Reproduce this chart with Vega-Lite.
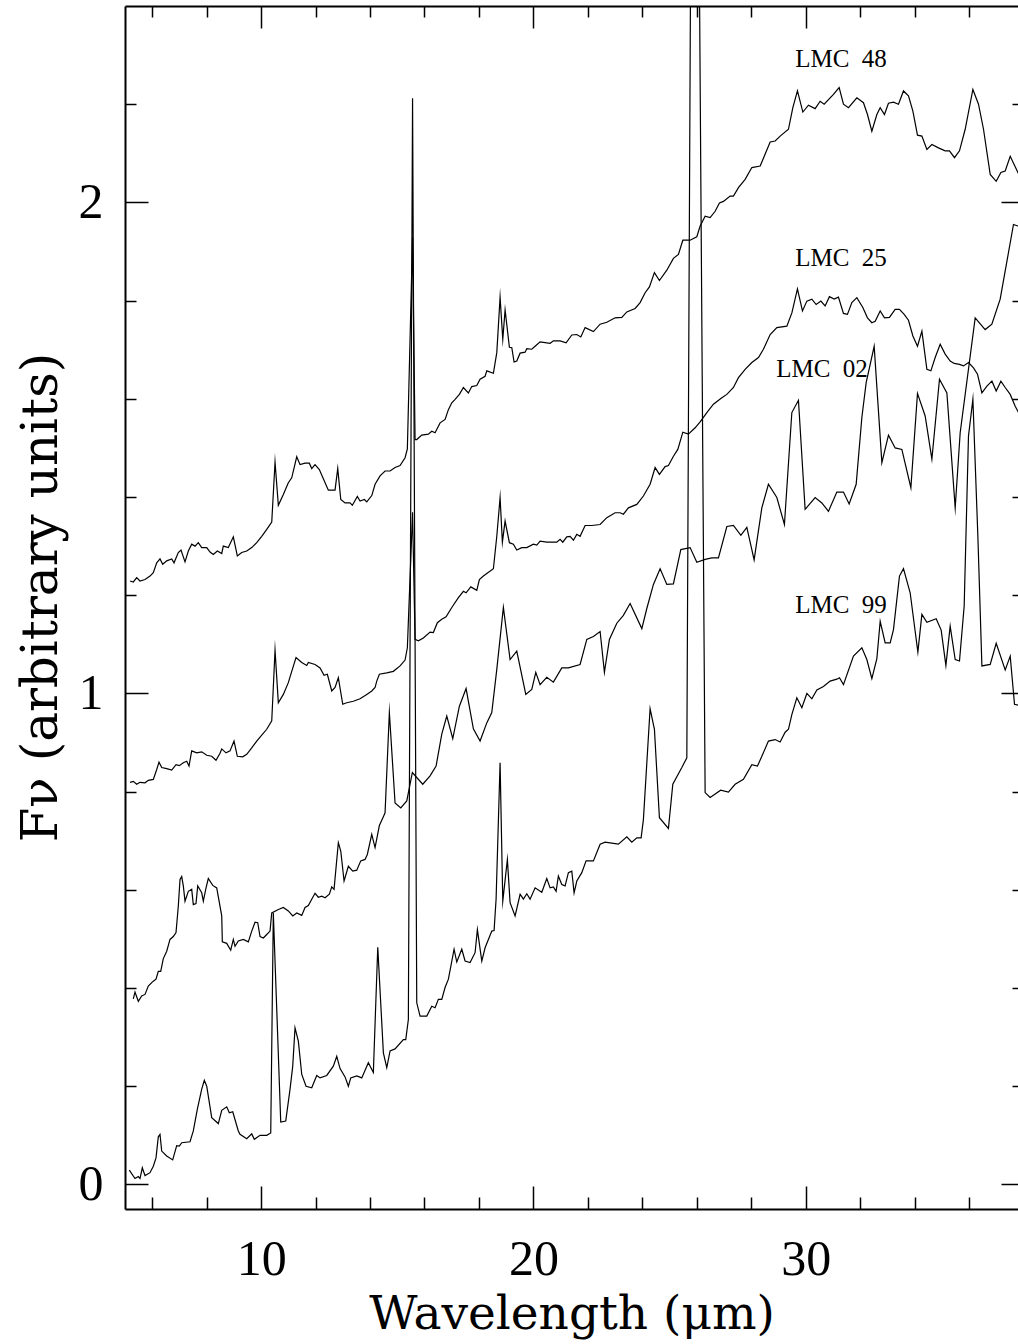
{
"$schema":"https://vega.github.io/schema/vega-lite/v6.json",
"width":893,"height":1203,
"autosize":{"type":"none"},
"padding":{"left":125,"top":6,"right":0,"bottom":135},
"background":"white",
"config":{"view":{"stroke":null},"axis":{"grid":false,"domainColor":"black","tickColor":"black","labelColor":"black","titleColor":"black"}},
"datasets":{
"labels":[
{"label":"LMC\u00a0\u00a048","wl":29.614,"flux":2.275},
{"label":"LMC\u00a0\u00a025","wl":29.614,"flux":1.870},
{"label":"LMC\u00a0\u00a002","wl":28.916,"flux":1.644},
{"label":"LMC\u00a0\u00a099","wl":29.614,"flux":1.163}],
"spectra":[
{"obj":"LMC 48","wl":5.184,"flux":1.229},{"obj":"LMC 48","wl":5.305,"flux":1.227},{"obj":"LMC 48","wl":5.430,"flux":1.236},{"obj":"LMC 48","wl":5.551,"flux":1.229},{"obj":"LMC 48","wl":5.735,"flux":1.232},{"obj":"LMC 48","wl":5.918,"flux":1.239},{"obj":"LMC 48","wl":6.040,"flux":1.246},{"obj":"LMC 48","wl":6.165,"flux":1.266},{"obj":"LMC 48","wl":6.286,"flux":1.274},{"obj":"LMC 48","wl":6.385,"flux":1.263},{"obj":"LMC 48","wl":6.532,"flux":1.270},{"obj":"LMC 48","wl":6.716,"flux":1.274},{"obj":"LMC 48","wl":6.800,"flux":1.266},{"obj":"LMC 48","wl":6.958,"flux":1.287},{"obj":"LMC 48","wl":7.057,"flux":1.292},{"obj":"LMC 48","wl":7.204,"flux":1.268},{"obj":"LMC 48","wl":7.326,"flux":1.290},{"obj":"LMC 48","wl":7.450,"flux":1.304},{"obj":"LMC 48","wl":7.572,"flux":1.300},{"obj":"LMC 48","wl":7.693,"flux":1.307},{"obj":"LMC 48","wl":7.818,"flux":1.297},{"obj":"LMC 48","wl":8.002,"flux":1.297},{"obj":"LMC 48","wl":8.123,"flux":1.288},{"obj":"LMC 48","wl":8.244,"flux":1.283},{"obj":"LMC 48","wl":8.391,"flux":1.290},{"obj":"LMC 48","wl":8.553,"flux":1.285},{"obj":"LMC 48","wl":8.611,"flux":1.300},{"obj":"LMC 48","wl":8.795,"flux":1.297},{"obj":"LMC 48","wl":8.979,"flux":1.319},{"obj":"LMC 48","wl":9.126,"flux":1.280},{"obj":"LMC 48","wl":9.287,"flux":1.287},{"obj":"LMC 48","wl":9.471,"flux":1.290},{"obj":"LMC 48","wl":9.655,"flux":1.297},{"obj":"LMC 48","wl":9.838,"flux":1.307},{"obj":"LMC 48","wl":10.022,"flux":1.320},{"obj":"LMC 48","wl":10.206,"flux":1.334},{"obj":"LMC 48","wl":10.390,"flux":1.349},{"obj":"LMC 48","wl":10.511,"flux":1.471},{"obj":"LMC 48","wl":10.632,"flux":1.383},{"obj":"LMC 48","wl":10.816,"flux":1.405},{"obj":"LMC 48","wl":10.999,"flux":1.429},{"obj":"LMC 48","wl":11.124,"flux":1.439},{"obj":"LMC 48","wl":11.308,"flux":1.482},{"obj":"LMC 48","wl":11.429,"flux":1.466},{"obj":"LMC 48","wl":11.613,"flux":1.469},{"obj":"LMC 48","wl":11.771,"flux":1.469},{"obj":"LMC 48","wl":11.859,"flux":1.458},{"obj":"LMC 48","wl":11.980,"flux":1.466},{"obj":"LMC 48","wl":12.138,"flux":1.456},{"obj":"LMC 48","wl":12.285,"flux":1.437},{"obj":"LMC 48","wl":12.469,"flux":1.414},{"obj":"LMC 48","wl":12.715,"flux":1.414},{"obj":"LMC 48","wl":12.814,"flux":1.458},{"obj":"LMC 48","wl":12.925,"flux":1.395},{"obj":"LMC 48","wl":13.083,"flux":1.388},{"obj":"LMC 48","wl":13.266,"flux":1.388},{"obj":"LMC 48","wl":13.351,"flux":1.383},{"obj":"LMC 48","wl":13.534,"flux":1.401},{"obj":"LMC 48","wl":13.633,"flux":1.392},{"obj":"LMC 48","wl":13.792,"flux":1.395},{"obj":"LMC 48","wl":13.880,"flux":1.390},{"obj":"LMC 48","wl":14.064,"flux":1.403},{"obj":"LMC 48","wl":14.185,"flux":1.426},{"obj":"LMC 48","wl":14.368,"flux":1.443},{"obj":"LMC 48","wl":14.552,"flux":1.453},{"obj":"LMC 48","wl":14.736,"flux":1.453},{"obj":"LMC 48","wl":14.919,"flux":1.460},{"obj":"LMC 48","wl":15.103,"flux":1.464},{"obj":"LMC 48","wl":15.287,"flux":1.480},{"obj":"LMC 48","wl":15.371,"flux":1.498},{"obj":"LMC 48","wl":15.562,"flux":1.929},{"obj":"LMC 48","wl":15.654,"flux":1.517},{"obj":"LMC 48","wl":15.716,"flux":1.517},{"obj":"LMC 48","wl":15.900,"flux":1.526},{"obj":"LMC 48","wl":16.143,"flux":1.528},{"obj":"LMC 48","wl":16.268,"flux":1.534},{"obj":"LMC 48","wl":16.389,"flux":1.531},{"obj":"LMC 48","wl":16.573,"flux":1.551},{"obj":"LMC 48","wl":16.757,"flux":1.558},{"obj":"LMC 48","wl":16.878,"flux":1.578},{"obj":"LMC 48","wl":17.003,"flux":1.592},{"obj":"LMC 48","wl":17.124,"flux":1.599},{"obj":"LMC 48","wl":17.282,"flux":1.609},{"obj":"LMC 48","wl":17.429,"flux":1.623},{"obj":"LMC 48","wl":17.612,"flux":1.612},{"obj":"LMC 48","wl":17.737,"flux":1.625},{"obj":"LMC 48","wl":17.921,"flux":1.627},{"obj":"LMC 48","wl":18.042,"flux":1.640},{"obj":"LMC 48","wl":18.226,"flux":1.646},{"obj":"LMC 48","wl":18.288,"flux":1.657},{"obj":"LMC 48","wl":18.531,"flux":1.652},{"obj":"LMC 48","wl":18.656,"flux":1.694},{"obj":"LMC 48","wl":18.777,"flux":1.807},{"obj":"LMC 48","wl":18.876,"flux":1.721},{"obj":"LMC 48","wl":18.961,"flux":1.781},{"obj":"LMC 48","wl":19.119,"flux":1.705},{"obj":"LMC 48","wl":19.207,"flux":1.704},{"obj":"LMC 48","wl":19.291,"flux":1.675},{"obj":"LMC 48","wl":19.390,"flux":1.677},{"obj":"LMC 48","wl":19.512,"flux":1.693},{"obj":"LMC 48","wl":19.695,"flux":1.695},{"obj":"LMC 48","wl":19.758,"flux":1.702},{"obj":"LMC 48","wl":19.941,"flux":1.701},{"obj":"LMC 48","wl":20.063,"flux":1.707},{"obj":"LMC 48","wl":20.246,"flux":1.716},{"obj":"LMC 48","wl":20.614,"flux":1.713},{"obj":"LMC 48","wl":20.735,"flux":1.718},{"obj":"LMC 48","wl":20.981,"flux":1.718},{"obj":"LMC 48","wl":21.202,"flux":1.714},{"obj":"LMC 48","wl":21.411,"flux":1.730},{"obj":"LMC 48","wl":21.595,"flux":1.731},{"obj":"LMC 48","wl":21.742,"flux":1.726},{"obj":"LMC 48","wl":21.900,"flux":1.745},{"obj":"LMC 48","wl":22.205,"flux":1.737},{"obj":"LMC 48","wl":22.451,"flux":1.752},{"obj":"LMC 48","wl":22.697,"flux":1.756},{"obj":"LMC 48","wl":23.002,"flux":1.765},{"obj":"LMC 48","wl":23.248,"flux":1.766},{"obj":"LMC 48","wl":23.432,"flux":1.777},{"obj":"LMC 48","wl":23.737,"flux":1.784},{"obj":"LMC 48","wl":23.920,"flux":1.796},{"obj":"LMC 48","wl":24.104,"flux":1.816},{"obj":"LMC 48","wl":24.262,"flux":1.828},{"obj":"LMC 48","wl":24.446,"flux":1.857},{"obj":"LMC 48","wl":24.629,"flux":1.841},{"obj":"LMC 48","wl":24.901,"flux":1.862},{"obj":"LMC 48","wl":25.143,"flux":1.886},{"obj":"LMC 48","wl":25.327,"flux":1.894},{"obj":"LMC 48","wl":25.489,"flux":1.923},{"obj":"LMC 48","wl":25.757,"flux":1.923},{"obj":"LMC 48","wl":26.003,"flux":1.930},{"obj":"LMC 48","wl":26.125,"flux":1.952},{"obj":"LMC 48","wl":26.308,"flux":1.972},{"obj":"LMC 48","wl":26.492,"flux":1.969},{"obj":"LMC 48","wl":26.676,"flux":1.982},{"obj":"LMC 48","wl":26.834,"flux":1.999},{"obj":"LMC 48","wl":26.981,"flux":2.002},{"obj":"LMC 48","wl":27.227,"flux":2.013},{"obj":"LMC 48","wl":27.348,"flux":2.013},{"obj":"LMC 48","wl":27.532,"flux":2.030},{"obj":"LMC 48","wl":27.778,"flux":2.047},{"obj":"LMC 48","wl":28.024,"flux":2.071},{"obj":"LMC 48","wl":28.330,"flux":2.074},{"obj":"LMC 48","wl":28.697,"flux":2.123},{"obj":"LMC 48","wl":28.880,"flux":2.125},{"obj":"LMC 48","wl":29.064,"flux":2.135},{"obj":"LMC 48","wl":29.369,"flux":2.149},{"obj":"LMC 48","wl":29.530,"flux":2.193},{"obj":"LMC 48","wl":29.699,"flux":2.227},{"obj":"LMC 48","wl":29.898,"flux":2.184},{"obj":"LMC 48","wl":30.103,"flux":2.198},{"obj":"LMC 48","wl":30.349,"flux":2.191},{"obj":"LMC 48","wl":30.533,"flux":2.206},{"obj":"LMC 48","wl":30.680,"flux":2.200},{"obj":"LMC 48","wl":31.022,"flux":2.220},{"obj":"LMC 48","wl":31.231,"flux":2.234},{"obj":"LMC 48","wl":31.389,"flux":2.200},{"obj":"LMC 48","wl":31.573,"flux":2.193},{"obj":"LMC 48","wl":31.881,"flux":2.213},{"obj":"LMC 48","wl":32.124,"flux":2.203},{"obj":"LMC 48","wl":32.271,"flux":2.179},{"obj":"LMC 48","wl":32.432,"flux":2.145},{"obj":"LMC 48","wl":32.616,"flux":2.179},{"obj":"LMC 48","wl":32.738,"flux":2.193},{"obj":"LMC 48","wl":32.895,"flux":2.179},{"obj":"LMC 48","wl":33.042,"flux":2.202},{"obj":"LMC 48","wl":33.226,"flux":2.204},{"obj":"LMC 48","wl":33.410,"flux":2.200},{"obj":"LMC 48","wl":33.593,"flux":2.227},{"obj":"LMC 48","wl":33.777,"flux":2.217},{"obj":"LMC 48","wl":33.939,"flux":2.186},{"obj":"LMC 48","wl":34.108,"flux":2.137},{"obj":"LMC 48","wl":34.270,"flux":2.135},{"obj":"LMC 48","wl":34.453,"flux":2.108},{"obj":"LMC 48","wl":34.637,"flux":2.118},{"obj":"LMC 48","wl":34.880,"flux":2.111},{"obj":"LMC 48","wl":35.125,"flux":2.105},{"obj":"LMC 48","wl":35.283,"flux":2.105},{"obj":"LMC 48","wl":35.467,"flux":2.091},{"obj":"LMC 48","wl":35.651,"flux":2.105},{"obj":"LMC 48","wl":35.860,"flux":2.149},{"obj":"LMC 48","wl":36.143,"flux":2.230},{"obj":"LMC 48","wl":36.349,"flux":2.200},{"obj":"LMC 48","wl":36.533,"flux":2.149},{"obj":"LMC 48","wl":36.779,"flux":2.057},{"obj":"LMC 48","wl":36.999,"flux":2.043},{"obj":"LMC 48","wl":37.172,"flux":2.061},{"obj":"LMC 48","wl":37.330,"flux":2.064},{"obj":"LMC 48","wl":37.514,"flux":2.094},{"obj":"LMC 48","wl":37.797,"flux":2.061},{"obj":"LMC 48","wl":37.990,"flux":2.037},
{"obj":"LMC 25","wl":5.184,"flux":0.819},{"obj":"LMC 25","wl":5.305,"flux":0.821},{"obj":"LMC 25","wl":5.430,"flux":0.815},{"obj":"LMC 25","wl":5.551,"flux":0.819},{"obj":"LMC 25","wl":5.735,"flux":0.818},{"obj":"LMC 25","wl":5.856,"flux":0.823},{"obj":"LMC 25","wl":6.040,"flux":0.825},{"obj":"LMC 25","wl":6.165,"flux":0.845},{"obj":"LMC 25","wl":6.249,"flux":0.860},{"obj":"LMC 25","wl":6.348,"flux":0.849},{"obj":"LMC 25","wl":6.532,"flux":0.847},{"obj":"LMC 25","wl":6.716,"flux":0.844},{"obj":"LMC 25","wl":6.874,"flux":0.855},{"obj":"LMC 25","wl":6.995,"flux":0.853},{"obj":"LMC 25","wl":7.142,"flux":0.859},{"obj":"LMC 25","wl":7.267,"flux":0.862},{"obj":"LMC 25","wl":7.351,"flux":0.852},{"obj":"LMC 25","wl":7.450,"flux":0.883},{"obj":"LMC 25","wl":7.634,"flux":0.879},{"obj":"LMC 25","wl":7.818,"flux":0.881},{"obj":"LMC 25","wl":8.002,"flux":0.874},{"obj":"LMC 25","wl":8.185,"flux":0.872},{"obj":"LMC 25","wl":8.343,"flux":0.864},{"obj":"LMC 25","wl":8.490,"flux":0.878},{"obj":"LMC 25","wl":8.553,"flux":0.887},{"obj":"LMC 25","wl":8.711,"flux":0.879},{"obj":"LMC 25","wl":8.858,"flux":0.883},{"obj":"LMC 25","wl":9.004,"flux":0.903},{"obj":"LMC 25","wl":9.126,"flux":0.872},{"obj":"LMC 25","wl":9.324,"flux":0.871},{"obj":"LMC 25","wl":9.471,"flux":0.876},{"obj":"LMC 25","wl":9.655,"flux":0.889},{"obj":"LMC 25","wl":9.838,"flux":0.903},{"obj":"LMC 25","wl":10.022,"flux":0.915},{"obj":"LMC 25","wl":10.206,"flux":0.927},{"obj":"LMC 25","wl":10.390,"flux":0.944},{"obj":"LMC 25","wl":10.511,"flux":1.088},{"obj":"LMC 25","wl":10.632,"flux":0.981},{"obj":"LMC 25","wl":10.816,"flux":0.998},{"obj":"LMC 25","wl":10.999,"flux":1.022},{"obj":"LMC 25","wl":11.124,"flux":1.045},{"obj":"LMC 25","wl":11.282,"flux":1.073},{"obj":"LMC 25","wl":11.492,"flux":1.063},{"obj":"LMC 25","wl":11.675,"flux":1.057},{"obj":"LMC 25","wl":11.734,"flux":1.063},{"obj":"LMC 25","wl":11.980,"flux":1.059},{"obj":"LMC 25","wl":12.164,"flux":1.052},{"obj":"LMC 25","wl":12.311,"flux":1.037},{"obj":"LMC 25","wl":12.432,"flux":1.039},{"obj":"LMC 25","wl":12.594,"flux":1.005},{"obj":"LMC 25","wl":12.715,"flux":1.012},{"obj":"LMC 25","wl":12.836,"flux":1.032},{"obj":"LMC 25","wl":12.998,"flux":0.978},{"obj":"LMC 25","wl":13.145,"flux":0.981},{"obj":"LMC 25","wl":13.387,"flux":0.984},{"obj":"LMC 25","wl":13.633,"flux":0.989},{"obj":"LMC 25","wl":13.880,"flux":0.998},{"obj":"LMC 25","wl":14.064,"flux":1.005},{"obj":"LMC 25","wl":14.185,"flux":1.012},{"obj":"LMC 25","wl":14.247,"flux":1.025},{"obj":"LMC 25","wl":14.343,"flux":1.039},{"obj":"LMC 25","wl":14.615,"flux":1.042},{"obj":"LMC 25","wl":14.857,"flux":1.045},{"obj":"LMC 25","wl":15.103,"flux":1.056},{"obj":"LMC 25","wl":15.287,"flux":1.068},{"obj":"LMC 25","wl":15.371,"flux":1.093},{"obj":"LMC 25","wl":15.562,"flux":1.369},{"obj":"LMC 25","wl":15.654,"flux":1.110},{"obj":"LMC 25","wl":15.775,"flux":1.107},{"obj":"LMC 25","wl":15.959,"flux":1.113},{"obj":"LMC 25","wl":16.205,"flux":1.125},{"obj":"LMC 25","wl":16.326,"flux":1.124},{"obj":"LMC 25","wl":16.473,"flux":1.144},{"obj":"LMC 25","wl":16.635,"flux":1.151},{"obj":"LMC 25","wl":16.793,"flux":1.156},{"obj":"LMC 25","wl":17.003,"flux":1.175},{"obj":"LMC 25","wl":17.245,"flux":1.195},{"obj":"LMC 25","wl":17.429,"flux":1.208},{"obj":"LMC 25","wl":17.528,"flux":1.205},{"obj":"LMC 25","wl":17.701,"flux":1.217},{"obj":"LMC 25","wl":17.921,"flux":1.210},{"obj":"LMC 25","wl":18.017,"flux":1.232},{"obj":"LMC 25","wl":18.163,"flux":1.239},{"obj":"LMC 25","wl":18.531,"flux":1.254},{"obj":"LMC 25","wl":18.656,"flux":1.320},{"obj":"LMC 25","wl":18.777,"flux":1.399},{"obj":"LMC 25","wl":18.861,"flux":1.308},{"obj":"LMC 25","wl":18.961,"flux":1.351},{"obj":"LMC 25","wl":19.119,"flux":1.307},{"obj":"LMC 25","wl":19.265,"flux":1.304},{"obj":"LMC 25","wl":19.390,"flux":1.292},{"obj":"LMC 25","wl":19.574,"flux":1.297},{"obj":"LMC 25","wl":19.758,"flux":1.297},{"obj":"LMC 25","wl":20.000,"flux":1.304},{"obj":"LMC 25","wl":20.125,"flux":1.302},{"obj":"LMC 25","wl":20.246,"flux":1.310},{"obj":"LMC 25","wl":20.492,"flux":1.308},{"obj":"LMC 25","wl":20.860,"flux":1.308},{"obj":"LMC 25","wl":20.981,"flux":1.314},{"obj":"LMC 25","wl":21.080,"flux":1.308},{"obj":"LMC 25","wl":21.227,"flux":1.319},{"obj":"LMC 25","wl":21.349,"flux":1.320},{"obj":"LMC 25","wl":21.470,"flux":1.312},{"obj":"LMC 25","wl":21.595,"flux":1.324},{"obj":"LMC 25","wl":21.716,"flux":1.320},{"obj":"LMC 25","wl":21.900,"flux":1.342},{"obj":"LMC 25","wl":22.146,"flux":1.342},{"obj":"LMC 25","wl":22.451,"flux":1.344},{"obj":"LMC 25","wl":22.697,"flux":1.358},{"obj":"LMC 25","wl":23.002,"flux":1.368},{"obj":"LMC 25","wl":23.185,"flux":1.368},{"obj":"LMC 25","wl":23.306,"flux":1.365},{"obj":"LMC 25","wl":23.490,"flux":1.378},{"obj":"LMC 25","wl":23.799,"flux":1.385},{"obj":"LMC 25","wl":24.041,"flux":1.402},{"obj":"LMC 25","wl":24.287,"flux":1.426},{"obj":"LMC 25","wl":24.471,"flux":1.460},{"obj":"LMC 25","wl":24.629,"flux":1.446},{"obj":"LMC 25","wl":24.839,"flux":1.462},{"obj":"LMC 25","wl":24.960,"flux":1.464},{"obj":"LMC 25","wl":25.144,"flux":1.483},{"obj":"LMC 25","wl":25.305,"flux":1.497},{"obj":"LMC 25","wl":25.489,"flux":1.532},{"obj":"LMC 25","wl":25.694,"flux":1.528},{"obj":"LMC 25","wl":25.941,"flux":1.541},{"obj":"LMC 25","wl":26.125,"flux":1.553},{"obj":"LMC 25","wl":26.371,"flux":1.572},{"obj":"LMC 25","wl":26.613,"flux":1.589},{"obj":"LMC 25","wl":26.922,"flux":1.602},{"obj":"LMC 25","wl":27.106,"flux":1.609},{"obj":"LMC 25","wl":27.348,"flux":1.623},{"obj":"LMC 25","wl":27.532,"flux":1.643},{"obj":"LMC 25","wl":27.778,"flux":1.660},{"obj":"LMC 25","wl":28.024,"flux":1.674},{"obj":"LMC 25","wl":28.267,"flux":1.684},{"obj":"LMC 25","wl":28.449,"flux":1.701},{"obj":"LMC 25","wl":28.697,"flux":1.731},{"obj":"LMC 25","wl":28.942,"flux":1.745},{"obj":"LMC 25","wl":29.310,"flux":1.748},{"obj":"LMC 25","wl":29.494,"flux":1.775},{"obj":"LMC 25","wl":29.699,"flux":1.824},{"obj":"LMC 25","wl":29.883,"flux":1.779},{"obj":"LMC 25","wl":30.045,"flux":1.799},{"obj":"LMC 25","wl":30.228,"flux":1.803},{"obj":"LMC 25","wl":30.386,"flux":1.792},{"obj":"LMC 25","wl":30.559,"flux":1.799},{"obj":"LMC 25","wl":30.716,"flux":1.789},{"obj":"LMC 25","wl":30.874,"flux":1.808},{"obj":"LMC 25","wl":31.047,"flux":1.803},{"obj":"LMC 25","wl":31.205,"flux":1.807},{"obj":"LMC 25","wl":31.389,"flux":1.774},{"obj":"LMC 25","wl":31.536,"flux":1.772},{"obj":"LMC 25","wl":31.697,"flux":1.796},{"obj":"LMC 25","wl":31.881,"flux":1.806},{"obj":"LMC 25","wl":32.101,"flux":1.786},{"obj":"LMC 25","wl":32.271,"flux":1.765},{"obj":"LMC 25","wl":32.432,"flux":1.755},{"obj":"LMC 25","wl":32.554,"flux":1.758},{"obj":"LMC 25","wl":32.738,"flux":1.779},{"obj":"LMC 25","wl":32.895,"flux":1.765},{"obj":"LMC 25","wl":33.079,"flux":1.766},{"obj":"LMC 25","wl":33.288,"flux":1.782},{"obj":"LMC 25","wl":33.446,"flux":1.782},{"obj":"LMC 25","wl":33.619,"flux":1.772},{"obj":"LMC 25","wl":33.777,"flux":1.760},{"obj":"LMC 25","wl":33.939,"flux":1.728},{"obj":"LMC 25","wl":34.108,"flux":1.707},{"obj":"LMC 25","wl":34.270,"flux":1.738},{"obj":"LMC 25","wl":34.453,"flux":1.660},{"obj":"LMC 25","wl":34.600,"flux":1.657},{"obj":"LMC 25","wl":34.758,"flux":1.684},{"obj":"LMC 25","wl":34.942,"flux":1.711},{"obj":"LMC 25","wl":35.125,"flux":1.691},{"obj":"LMC 25","wl":35.309,"flux":1.677},{"obj":"LMC 25","wl":35.456,"flux":1.672},{"obj":"LMC 25","wl":35.651,"flux":1.670},{"obj":"LMC 25","wl":35.798,"flux":1.667},{"obj":"LMC 25","wl":35.982,"flux":1.674},{"obj":"LMC 25","wl":36.166,"flux":1.663},{"obj":"LMC 25","wl":36.313,"flux":1.650},{"obj":"LMC 25","wl":36.474,"flux":1.612},{"obj":"LMC 25","wl":36.658,"flux":1.626},{"obj":"LMC 25","wl":36.842,"flux":1.636},{"obj":"LMC 25","wl":36.999,"flux":1.616},{"obj":"LMC 25","wl":37.172,"flux":1.636},{"obj":"LMC 25","wl":37.330,"flux":1.623},{"obj":"LMC 25","wl":37.514,"flux":1.609},{"obj":"LMC 25","wl":37.697,"flux":1.585},{"obj":"LMC 25","wl":37.819,"flux":1.572},{"obj":"LMC 25","wl":37.990,"flux":1.554},
{"obj":"LMC 02","wl":5.305,"flux":0.378},{"obj":"LMC 02","wl":5.367,"flux":0.392},{"obj":"LMC 02","wl":5.489,"flux":0.373},{"obj":"LMC 02","wl":5.613,"flux":0.384},{"obj":"LMC 02","wl":5.735,"flux":0.387},{"obj":"LMC 02","wl":5.856,"flux":0.404},{"obj":"LMC 02","wl":5.981,"flux":0.411},{"obj":"LMC 02","wl":6.040,"flux":0.414},{"obj":"LMC 02","wl":6.139,"flux":0.418},{"obj":"LMC 02","wl":6.223,"flux":0.434},{"obj":"LMC 02","wl":6.312,"flux":0.434},{"obj":"LMC 02","wl":6.407,"flux":0.460},{"obj":"LMC 02","wl":6.532,"flux":0.475},{"obj":"LMC 02","wl":6.653,"flux":0.499},{"obj":"LMC 02","wl":6.774,"flux":0.505},{"obj":"LMC 02","wl":6.874,"flux":0.513},{"obj":"LMC 02","wl":6.958,"flux":0.567},{"obj":"LMC 02","wl":7.021,"flux":0.621},{"obj":"LMC 02","wl":7.083,"flux":0.627},{"obj":"LMC 02","wl":7.142,"flux":0.608},{"obj":"LMC 02","wl":7.204,"flux":0.577},{"obj":"LMC 02","wl":7.326,"flux":0.597},{"obj":"LMC 02","wl":7.450,"flux":0.601},{"obj":"LMC 02","wl":7.509,"flux":0.570},{"obj":"LMC 02","wl":7.608,"flux":0.572},{"obj":"LMC 02","wl":7.671,"flux":0.608},{"obj":"LMC 02","wl":7.818,"flux":0.594},{"obj":"LMC 02","wl":7.877,"flux":0.577},{"obj":"LMC 02","wl":7.976,"flux":0.604},{"obj":"LMC 02","wl":8.060,"flux":0.623},{"obj":"LMC 02","wl":8.222,"flux":0.609},{"obj":"LMC 02","wl":8.369,"flux":0.604},{"obj":"LMC 02","wl":8.553,"flux":0.547},{"obj":"LMC 02","wl":8.575,"flux":0.494},{"obj":"LMC 02","wl":8.736,"flux":0.491},{"obj":"LMC 02","wl":8.883,"flux":0.477},{"obj":"LMC 02","wl":8.979,"flux":0.499},{"obj":"LMC 02","wl":9.041,"flux":0.485},{"obj":"LMC 02","wl":9.162,"flux":0.496},{"obj":"LMC 02","wl":9.346,"flux":0.499},{"obj":"LMC 02","wl":9.530,"flux":0.494},{"obj":"LMC 02","wl":9.655,"flux":0.516},{"obj":"LMC 02","wl":9.776,"flux":0.534},{"obj":"LMC 02","wl":9.875,"flux":0.533},{"obj":"LMC 02","wl":9.960,"flux":0.505},{"obj":"LMC 02","wl":10.081,"flux":0.502},{"obj":"LMC 02","wl":10.206,"flux":0.509},{"obj":"LMC 02","wl":10.327,"flux":0.516},{"obj":"LMC 02","wl":10.390,"flux":0.553},{"obj":"LMC 02","wl":10.632,"flux":0.560},{"obj":"LMC 02","wl":10.816,"flux":0.564},{"obj":"LMC 02","wl":10.999,"flux":0.557},{"obj":"LMC 02","wl":11.161,"flux":0.547},{"obj":"LMC 02","wl":11.308,"flux":0.553},{"obj":"LMC 02","wl":11.492,"flux":0.548},{"obj":"LMC 02","wl":11.613,"flux":0.564},{"obj":"LMC 02","wl":11.734,"flux":0.568},{"obj":"LMC 02","wl":11.859,"flux":0.581},{"obj":"LMC 02","wl":11.980,"flux":0.593},{"obj":"LMC 02","wl":12.101,"flux":0.585},{"obj":"LMC 02","wl":12.226,"flux":0.587},{"obj":"LMC 02","wl":12.348,"flux":0.584},{"obj":"LMC 02","wl":12.506,"flux":0.591},{"obj":"LMC 02","wl":12.594,"flux":0.606},{"obj":"LMC 02","wl":12.678,"flux":0.601},{"obj":"LMC 02","wl":12.836,"flux":0.696},{"obj":"LMC 02","wl":12.925,"flux":0.679},{"obj":"LMC 02","wl":13.046,"flux":0.618},{"obj":"LMC 02","wl":13.204,"flux":0.648},{"obj":"LMC 02","wl":13.365,"flux":0.638},{"obj":"LMC 02","wl":13.512,"flux":0.640},{"obj":"LMC 02","wl":13.659,"flux":0.659},{"obj":"LMC 02","wl":13.817,"flux":0.662},{"obj":"LMC 02","wl":13.901,"flux":0.672},{"obj":"LMC 02","wl":14.063,"flux":0.713},{"obj":"LMC 02","wl":14.185,"flux":0.686},{"obj":"LMC 02","wl":14.343,"flux":0.731},{"obj":"LMC 02","wl":14.490,"flux":0.749},{"obj":"LMC 02","wl":14.552,"flux":0.757},{"obj":"LMC 02","wl":14.710,"flux":0.961},{"obj":"LMC 02","wl":14.919,"flux":0.777},{"obj":"LMC 02","wl":15.129,"flux":0.767},{"obj":"LMC 02","wl":15.349,"flux":0.781},{"obj":"LMC 02","wl":15.555,"flux":0.839},{"obj":"LMC 02","wl":15.937,"flux":0.815},{"obj":"LMC 02","wl":16.205,"flux":0.832},{"obj":"LMC 02","wl":16.426,"flux":0.852},{"obj":"LMC 02","wl":16.635,"flux":0.917},{"obj":"LMC 02","wl":16.819,"flux":0.954},{"obj":"LMC 02","wl":17.039,"flux":0.908},{"obj":"LMC 02","wl":17.282,"flux":0.974},{"obj":"LMC 02","wl":17.528,"flux":1.010},{"obj":"LMC 02","wl":17.796,"flux":0.928},{"obj":"LMC 02","wl":18.042,"flux":0.903},{"obj":"LMC 02","wl":18.288,"flux":0.940},{"obj":"LMC 02","wl":18.472,"flux":0.961},{"obj":"LMC 02","wl":18.656,"flux":1.049},{"obj":"LMC 02","wl":18.898,"flux":1.175},{"obj":"LMC 02","wl":19.144,"flux":1.069},{"obj":"LMC 02","wl":19.390,"flux":1.086},{"obj":"LMC 02","wl":19.721,"flux":0.998},{"obj":"LMC 02","wl":19.941,"flux":1.008},{"obj":"LMC 02","wl":20.088,"flux":1.043},{"obj":"LMC 02","wl":20.246,"flux":1.018},{"obj":"LMC 02","wl":20.492,"flux":1.033},{"obj":"LMC 02","wl":20.735,"flux":1.023},{"obj":"LMC 02","wl":21.043,"flux":1.052},{"obj":"LMC 02","wl":21.286,"flux":1.052},{"obj":"LMC 02","wl":21.716,"flux":1.059},{"obj":"LMC 02","wl":21.962,"flux":1.110},{"obj":"LMC 02","wl":22.205,"flux":1.116},{"obj":"LMC 02","wl":22.451,"flux":1.126},{"obj":"LMC 02","wl":22.609,"flux":1.043},{"obj":"LMC 02","wl":22.792,"flux":1.110},{"obj":"LMC 02","wl":23.064,"flux":1.143},{"obj":"LMC 02","wl":23.306,"flux":1.159},{"obj":"LMC 02","wl":23.553,"flux":1.183},{"obj":"LMC 02","wl":23.983,"flux":1.132},{"obj":"LMC 02","wl":24.166,"flux":1.173},{"obj":"LMC 02","wl":24.409,"flux":1.222},{"obj":"LMC 02","wl":24.655,"flux":1.254},{"obj":"LMC 02","wl":24.901,"flux":1.222},{"obj":"LMC 02","wl":25.143,"flux":1.223},{"obj":"LMC 02","wl":25.415,"flux":1.293},{"obj":"LMC 02","wl":25.757,"flux":1.297},{"obj":"LMC 02","wl":26.003,"flux":1.267},{"obj":"LMC 02","wl":26.308,"flux":1.273},{"obj":"LMC 02","wl":26.554,"flux":1.276},{"obj":"LMC 02","wl":26.797,"flux":1.276},{"obj":"LMC 02","wl":27.106,"flux":1.340},{"obj":"LMC 02","wl":27.348,"flux":1.342},{"obj":"LMC 02","wl":27.620,"flux":1.322},{"obj":"LMC 02","wl":27.840,"flux":1.338},{"obj":"LMC 02","wl":28.108,"flux":1.272},{"obj":"LMC 02","wl":28.391,"flux":1.378},{"obj":"LMC 02","wl":28.633,"flux":1.426},{"obj":"LMC 02","wl":28.942,"flux":1.399},{"obj":"LMC 02","wl":29.221,"flux":1.344},{"obj":"LMC 02","wl":29.493,"flux":1.572},{"obj":"LMC 02","wl":29.736,"flux":1.597},{"obj":"LMC 02","wl":29.981,"flux":1.375},{"obj":"LMC 02","wl":30.349,"flux":1.399},{"obj":"LMC 02","wl":30.595,"flux":1.388},{"obj":"LMC 02","wl":30.838,"flux":1.371},{"obj":"LMC 02","wl":31.146,"flux":1.410},{"obj":"LMC 02","wl":31.389,"flux":1.410},{"obj":"LMC 02","wl":31.598,"flux":1.386},{"obj":"LMC 02","wl":31.856,"flux":1.426},{"obj":"LMC 02","wl":32.065,"flux":1.562},{"obj":"LMC 02","wl":32.223,"flux":1.633},{"obj":"LMC 02","wl":32.517,"flux":1.707},{"obj":"LMC 02","wl":32.800,"flux":1.470},{"obj":"LMC 02","wl":33.042,"flux":1.526},{"obj":"LMC 02","wl":33.288,"flux":1.500},{"obj":"LMC 02","wl":33.534,"flux":1.497},{"obj":"LMC 02","wl":33.865,"flux":1.419},{"obj":"LMC 02","wl":34.108,"flux":1.611},{"obj":"LMC 02","wl":34.390,"flux":1.565},{"obj":"LMC 02","wl":34.637,"flux":1.477},{"obj":"LMC 02","wl":34.916,"flux":1.640},{"obj":"LMC 02","wl":35.188,"flux":1.612},{"obj":"LMC 02","wl":35.493,"flux":1.378},{"obj":"LMC 02","wl":35.676,"flux":1.531},{"obj":"LMC 02","wl":36.227,"flux":1.765},{"obj":"LMC 02","wl":36.594,"flux":1.741},{"obj":"LMC 02","wl":36.840,"flux":1.752},{"obj":"LMC 02","wl":37.145,"flux":1.803},{"obj":"LMC 02","wl":37.634,"flux":1.955},{"obj":"LMC 02","wl":37.796,"flux":1.952},{"obj":"LMC 02","wl":37.990,"flux":1.945},
{"obj":"LMC 99","wl":5.158,"flux":0.029},{"obj":"LMC 99","wl":5.367,"flux":0.012},{"obj":"LMC 99","wl":5.489,"flux":0.016},{"obj":"LMC 99","wl":5.551,"flux":0.012},{"obj":"LMC 99","wl":5.636,"flux":0.034},{"obj":"LMC 99","wl":5.735,"flux":0.018},{"obj":"LMC 99","wl":5.918,"flux":0.024},{"obj":"LMC 99","wl":6.040,"flux":0.037},{"obj":"LMC 99","wl":6.139,"flux":0.054},{"obj":"LMC 99","wl":6.223,"flux":0.097},{"obj":"LMC 99","wl":6.286,"flux":0.102},{"obj":"LMC 99","wl":6.348,"flux":0.068},{"obj":"LMC 99","wl":6.532,"flux":0.058},{"obj":"LMC 99","wl":6.752,"flux":0.050},{"obj":"LMC 99","wl":6.899,"flux":0.079},{"obj":"LMC 99","wl":6.995,"flux":0.078},{"obj":"LMC 99","wl":7.083,"flux":0.085},{"obj":"LMC 99","wl":7.388,"flux":0.087},{"obj":"LMC 99","wl":7.509,"flux":0.109},{"obj":"LMC 99","wl":7.656,"flux":0.153},{"obj":"LMC 99","wl":7.818,"flux":0.194},{"obj":"LMC 99","wl":7.913,"flux":0.212},{"obj":"LMC 99","wl":8.002,"flux":0.200},{"obj":"LMC 99","wl":8.185,"flux":0.136},{"obj":"LMC 99","wl":8.428,"flux":0.124},{"obj":"LMC 99","wl":8.553,"flux":0.151},{"obj":"LMC 99","wl":8.736,"flux":0.158},{"obj":"LMC 99","wl":8.832,"flux":0.146},{"obj":"LMC 99","wl":8.957,"flux":0.148},{"obj":"LMC 99","wl":9.162,"flux":0.109},{"obj":"LMC 99","wl":9.225,"flux":0.102},{"obj":"LMC 99","wl":9.471,"flux":0.093},{"obj":"LMC 99","wl":9.655,"flux":0.103},{"obj":"LMC 99","wl":9.750,"flux":0.092},{"obj":"LMC 99","wl":9.960,"flux":0.100},{"obj":"LMC 99","wl":10.206,"flux":0.100},{"obj":"LMC 99","wl":10.353,"flux":0.105},{"obj":"LMC 99","wl":10.448,"flux":0.553},{"obj":"LMC 99","wl":10.720,"flux":0.127},{"obj":"LMC 99","wl":10.904,"flux":0.129},{"obj":"LMC 99","wl":11.062,"flux":0.194},{"obj":"LMC 99","wl":11.161,"flux":0.241},{"obj":"LMC 99","wl":11.245,"flux":0.319},{"obj":"LMC 99","wl":11.367,"flux":0.292},{"obj":"LMC 99","wl":11.492,"flux":0.224},{"obj":"LMC 99","wl":11.650,"flux":0.200},{"obj":"LMC 99","wl":11.859,"flux":0.197},{"obj":"LMC 99","wl":12.043,"flux":0.222},{"obj":"LMC 99","wl":12.164,"flux":0.217},{"obj":"LMC 99","wl":12.410,"flux":0.222},{"obj":"LMC 99","wl":12.652,"flux":0.241},{"obj":"LMC 99","wl":12.777,"flux":0.261},{"obj":"LMC 99","wl":12.899,"flux":0.236},{"obj":"LMC 99","wl":13.083,"flux":0.219},{"obj":"LMC 99","wl":13.204,"flux":0.200},{"obj":"LMC 99","wl":13.292,"flux":0.217},{"obj":"LMC 99","wl":13.512,"flux":0.221},{"obj":"LMC 99","wl":13.696,"flux":0.217},{"obj":"LMC 99","wl":13.938,"flux":0.248},{"obj":"LMC 99","wl":14.122,"flux":0.228},{"obj":"LMC 99","wl":14.284,"flux":0.483},{"obj":"LMC 99","wl":14.490,"flux":0.268},{"obj":"LMC 99","wl":14.615,"flux":0.238},{"obj":"LMC 99","wl":14.736,"flux":0.272},{"obj":"LMC 99","wl":14.919,"flux":0.276},{"obj":"LMC 99","wl":15.224,"flux":0.295},{"obj":"LMC 99","wl":15.312,"flux":0.295},{"obj":"LMC 99","wl":15.408,"flux":0.336},{"obj":"LMC 99","wl":15.562,"flux":2.212},{"obj":"LMC 99","wl":15.716,"flux":0.370},{"obj":"LMC 99","wl":15.838,"flux":0.343},{"obj":"LMC 99","wl":16.084,"flux":0.343},{"obj":"LMC 99","wl":16.268,"flux":0.363},{"obj":"LMC 99","wl":16.389,"flux":0.360},{"obj":"LMC 99","wl":16.510,"flux":0.377},{"obj":"LMC 99","wl":16.635,"flux":0.377},{"obj":"LMC 99","wl":16.756,"flux":0.401},{"obj":"LMC 99","wl":16.878,"flux":0.418},{"obj":"LMC 99","wl":17.087,"flux":0.479},{"obj":"LMC 99","wl":17.186,"flux":0.453},{"obj":"LMC 99","wl":17.370,"flux":0.479},{"obj":"LMC 99","wl":17.491,"flux":0.455},{"obj":"LMC 99","wl":17.675,"flux":0.452},{"obj":"LMC 99","wl":17.858,"flux":0.472},{"obj":"LMC 99","wl":17.943,"flux":0.519},{"obj":"LMC 99","wl":18.105,"flux":0.455},{"obj":"LMC 99","wl":18.226,"flux":0.482},{"obj":"LMC 99","wl":18.472,"flux":0.516},{"obj":"LMC 99","wl":18.556,"flux":0.517},{"obj":"LMC 99","wl":18.630,"flux":0.581},{"obj":"LMC 99","wl":18.777,"flux":0.859},{"obj":"LMC 99","wl":18.876,"flux":0.577},{"obj":"LMC 99","wl":19.045,"flux":0.662},{"obj":"LMC 99","wl":19.144,"flux":0.574},{"obj":"LMC 99","wl":19.328,"flux":0.547},{"obj":"LMC 99","wl":19.512,"flux":0.591},{"obj":"LMC 99","wl":19.633,"flux":0.581},{"obj":"LMC 99","wl":19.758,"flux":0.592},{"obj":"LMC 99","wl":19.879,"flux":0.581},{"obj":"LMC 99","wl":20.063,"flux":0.604},{"obj":"LMC 99","wl":20.309,"flux":0.595},{"obj":"LMC 99","wl":20.492,"flux":0.623},{"obj":"LMC 99","wl":20.614,"flux":0.604},{"obj":"LMC 99","wl":20.735,"flux":0.606},{"obj":"LMC 99","wl":20.834,"flux":0.597},{"obj":"LMC 99","wl":20.918,"flux":0.628},{"obj":"LMC 99","wl":21.043,"flux":0.611},{"obj":"LMC 99","wl":21.165,"flux":0.608},{"obj":"LMC 99","wl":21.286,"flux":0.635},{"obj":"LMC 99","wl":21.411,"flux":0.638},{"obj":"LMC 99","wl":21.495,"flux":0.594},{"obj":"LMC 99","wl":21.595,"flux":0.618},{"obj":"LMC 99","wl":21.778,"flux":0.635},{"obj":"LMC 99","wl":21.936,"flux":0.659},{"obj":"LMC 99","wl":22.205,"flux":0.659},{"obj":"LMC 99","wl":22.451,"flux":0.693},{"obj":"LMC 99","wl":22.635,"flux":0.697},{"obj":"LMC 99","wl":23.123,"flux":0.693},{"obj":"LMC 99","wl":23.432,"flux":0.708},{"obj":"LMC 99","wl":23.615,"flux":0.697},{"obj":"LMC 99","wl":23.799,"flux":0.706},{"obj":"LMC 99","wl":23.957,"flux":0.706},{"obj":"LMC 99","wl":24.041,"flux":0.743},{"obj":"LMC 99","wl":24.287,"flux":0.969},{"obj":"LMC 99","wl":24.446,"flux":0.927},{"obj":"LMC 99","wl":24.629,"flux":0.747},{"obj":"LMC 99","wl":24.960,"flux":0.725},{"obj":"LMC 99","wl":25.121,"flux":0.815},{"obj":"LMC 99","wl":25.452,"flux":0.849},{"obj":"LMC 99","wl":25.636,"flux":0.869},{"obj":"LMC 99","wl":25.904,"flux":4.0},{"obj":"LMC 99","wl":26.308,"flux":0.798},{"obj":"LMC 99","wl":26.492,"flux":0.788},{"obj":"LMC 99","wl":26.879,"flux":0.803},{"obj":"LMC 99","wl":27.164,"flux":0.799},{"obj":"LMC 99","wl":27.410,"flux":0.815},{"obj":"LMC 99","wl":27.715,"flux":0.825},{"obj":"LMC 99","wl":28.024,"flux":0.855},{"obj":"LMC 99","wl":28.230,"flux":0.852},{"obj":"LMC 99","wl":28.391,"flux":0.872},{"obj":"LMC 99","wl":28.633,"flux":0.903},{"obj":"LMC 99","wl":28.880,"flux":0.906},{"obj":"LMC 99","wl":29.063,"flux":0.901},{"obj":"LMC 99","wl":29.247,"flux":0.921},{"obj":"LMC 99","wl":29.369,"flux":0.927},{"obj":"LMC 99","wl":29.493,"flux":0.957},{"obj":"LMC 99","wl":29.677,"flux":0.991},{"obj":"LMC 99","wl":29.861,"flux":0.971},{"obj":"LMC 99","wl":30.045,"flux":1.000},{"obj":"LMC 99","wl":30.228,"flux":0.989},{"obj":"LMC 99","wl":30.412,"flux":1.007},{"obj":"LMC 99","wl":30.654,"flux":1.014},{"obj":"LMC 99","wl":30.900,"flux":1.025},{"obj":"LMC 99","wl":31.146,"flux":1.029},{"obj":"LMC 99","wl":31.242,"flux":1.032},{"obj":"LMC 99","wl":31.389,"flux":1.018},{"obj":"LMC 99","wl":31.756,"flux":1.076},{"obj":"LMC 99","wl":32.065,"flux":1.093},{"obj":"LMC 99","wl":32.248,"flux":1.069},{"obj":"LMC 99","wl":32.432,"flux":1.030},{"obj":"LMC 99","wl":32.616,"flux":1.071},{"obj":"LMC 99","wl":32.738,"flux":1.147},{"obj":"LMC 99","wl":32.921,"flux":1.103},{"obj":"LMC 99","wl":33.105,"flux":1.103},{"obj":"LMC 99","wl":33.226,"flux":1.130},{"obj":"LMC 99","wl":33.446,"flux":1.239},{"obj":"LMC 99","wl":33.593,"flux":1.254},{"obj":"LMC 99","wl":33.839,"flux":1.205},{"obj":"LMC 99","wl":34.122,"flux":1.084},{"obj":"LMC 99","wl":34.270,"flux":1.161},{"obj":"LMC 99","wl":34.453,"flux":1.145},{"obj":"LMC 99","wl":34.795,"flux":1.152},{"obj":"LMC 99","wl":34.978,"flux":1.129},{"obj":"LMC 99","wl":35.151,"flux":1.057},{"obj":"LMC 99","wl":35.309,"flux":1.137},{"obj":"LMC 99","wl":35.493,"flux":1.069},{"obj":"LMC 99","wl":35.651,"flux":1.066},{"obj":"LMC 99","wl":35.823,"flux":1.178},{"obj":"LMC 99","wl":35.981,"flux":1.524},{"obj":"LMC 99","wl":36.143,"flux":1.599},{"obj":"LMC 99","wl":36.326,"flux":1.320},{"obj":"LMC 99","wl":36.474,"flux":1.056},{"obj":"LMC 99","wl":36.779,"flux":1.059},{"obj":"LMC 99","wl":36.999,"flux":1.102},{"obj":"LMC 99","wl":37.330,"flux":1.048},{"obj":"LMC 99","wl":37.514,"flux":1.076},{"obj":"LMC 99","wl":37.672,"flux":0.978},{"obj":"LMC 99","wl":37.806,"flux":0.976},{"obj":"LMC 99","wl":37.990,"flux":0.967}
]},
"layer":[
{"data":{"name":"spectra"},
 "mark":{"type":"line","clip":true,"stroke":"black","strokeWidth":1.2,"strokeJoin":"miter","strokeMiterLimit":20},
 "encoding":{
  "x":{"field":"wl","type":"quantitative","scale":{"domain":[5,37.8],"nice":false,"zero":false},
       "axis":{"orient":"bottom","values":[10,20,30],"format":"d","ticks":false,"domain":true,"domainWidth":2,"labelFont":"Liberation Serif","labelFontSize":50,"labelPadding":25,"labelFlush":false,"title":"Wavelength (μm)","titleFont":"DejaVu Serif","titleFontSize":47,"titleFontWeight":"normal","titleX":446.5,"titleY":119,"titleBaseline":"alphabetic","titleAlign":"center","zindex":1}},
  "y":{"field":"flux","type":"quantitative","scale":{"domain":[-0.05,2.4],"nice":false,"zero":false},
       "axis":{"orient":"left","values":[0,1,2],"format":"d","ticks":false,"domain":true,"domainWidth":2,"labelFont":"Liberation Serif","labelFontSize":50,"labelPadding":22,"labelFlush":false,"title":"Fν (arbitrary units)","titleFont":"DejaVu Serif","titleFontSize":50,"titleFontWeight":"normal","titleX":-69,"titleY":591,"titleAngle":-90,"titleBaseline":"alphabetic","titleAlign":"center","zindex":1}},
  "detail":{"field":"obj"}
 }},
{"data":{"name":"labels"},
 "mark":{"type":"text","align":"left","baseline":"alphabetic","font":"Liberation Serif","fontSize":25,"color":"black"},
 "encoding":{
  "x":{"field":"wl","type":"quantitative","scale":{"domain":[5,37.8],"nice":false,"zero":false},
       "axis":{"orient":"bottom","values":[10,20,30],"labels":false,"domain":false,"ticks":true,"tickSize":-23,"tickWidth":1.5,"title":null,"zindex":1}},
  "y":{"field":"flux","type":"quantitative","scale":{"domain":[-0.05,2.4],"nice":false,"zero":false},
       "axis":{"orient":"left","values":[0,1,2],"labels":false,"domain":false,"ticks":true,"tickSize":-23,"tickWidth":1.5,"title":null,"zindex":1}},
  "text":{"field":"label"}
 }},
{"data":{"name":"labels"},
 "mark":{"type":"point","opacity":0},
 "encoding":{
  "x":{"field":"wl","type":"quantitative","scale":{"domain":[5,37.8],"nice":false,"zero":false},
       "axis":{"orient":"bottom","values":[6,8,12,14,16,18,22,24,26,28,32,34,36],"labels":false,"domain":false,"ticks":true,"tickSize":-12,"tickWidth":1.5,"title":null,"zindex":1}},
  "y":{"field":"flux","type":"quantitative","scale":{"domain":[-0.05,2.4],"nice":false,"zero":false},
       "axis":{"orient":"left","values":[0.2,0.4,0.6,0.8,1.2,1.4,1.6,1.8,2.2],"labels":false,"domain":false,"ticks":true,"tickSize":-11,"tickWidth":1.5,"title":null,"zindex":1}}
 }},
{"data":{"name":"labels"},
 "mark":{"type":"point","opacity":0},
 "encoding":{
  "x":{"field":"wl","type":"quantitative","scale":{"domain":[5,37.8],"nice":false,"zero":false},
       "axis":{"orient":"top","values":[10,20,30],"labels":false,"domain":true,"domainWidth":2,"ticks":true,"tickSize":-22,"tickWidth":1.5,"title":null,"zindex":1}},
  "y":{"field":"flux","type":"quantitative","scale":{"domain":[-0.05,2.4],"nice":false,"zero":false},
       "axis":{"orient":"right","values":[0,1,2],"labels":false,"domain":false,"ticks":true,"tickSize":-17,"tickWidth":1.5,"title":null,"zindex":1}}
 }},
{"data":{"name":"labels"},
 "mark":{"type":"point","opacity":0},
 "encoding":{
  "x":{"field":"wl","type":"quantitative","scale":{"domain":[5,37.8],"nice":false,"zero":false},
       "axis":{"orient":"top","values":[6,8,12,14,16,18,22,24,26,28,32,34,36],"labels":false,"domain":false,"ticks":true,"tickSize":-11,"tickWidth":1.5,"title":null,"zindex":1}},
  "y":{"field":"flux","type":"quantitative","scale":{"domain":[-0.05,2.4],"nice":false,"zero":false},
       "axis":{"orient":"right","values":[0.2,0.4,0.6,0.8,1.2,1.4,1.6,1.8,2.2],"labels":false,"domain":false,"ticks":true,"tickSize":-6,"tickWidth":1.5,"title":null,"zindex":1}}
 }}
],
"resolve":{"axis":{"x":"independent","y":"independent"}}
}
